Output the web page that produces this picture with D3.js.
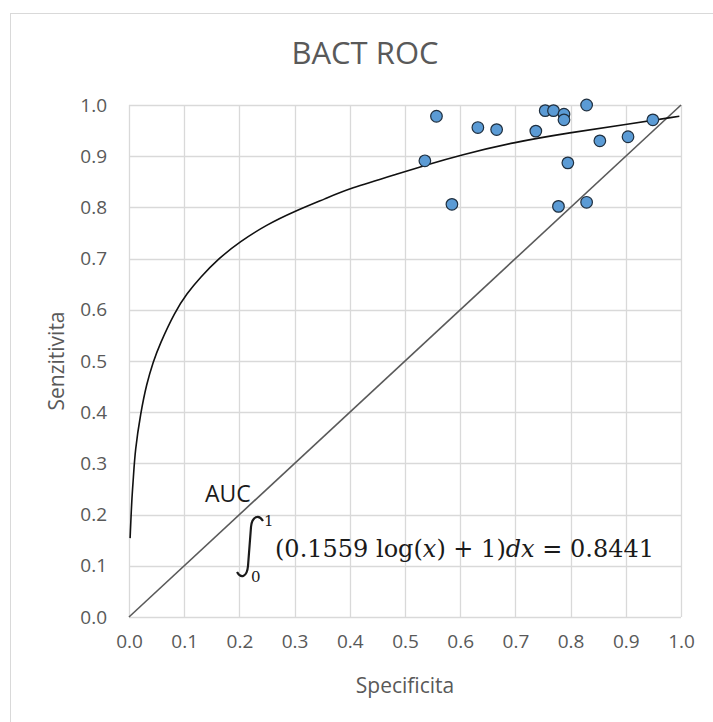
<!DOCTYPE html>
<html>
<head>
<meta charset="utf-8">
<script src="https://cdn.jsdelivr.net/npm/d3@7"></script>
<style>
  body { margin: 0; background: #fff; }
  text { font-family: "Open Sans", sans-serif; }
</style>
</head>
<body>
<svg width="713" height="722"></svg>
<script>
// BACT ROC scatter, Excel-like look

var chartTitle = "BACT ROC";
var xTitle = "Specificita";
var yTitle = "Senzitivita";

var tickValues = [0, 0.1, 0.2, 0.3, 0.4, 0.5, 0.6, 0.7, 0.8, 0.9, 1.0];

// observed points
var specificity = [0.557, 0.536, 0.585, 0.632, 0.666, 0.737, 0.754, 0.769, 0.788, 0.788, 0.829, 0.795, 0.778, 0.829, 0.853, 0.904, 0.949];
var sensitivity = [0.978, 0.891, 0.806, 0.956, 0.952, 0.949, 0.989, 0.989, 0.982, 0.971, 1.000, 0.887, 0.802, 0.810, 0.930, 0.938, 0.971];

// log trend curve
var curveX = [0.002, 0.005, 0.008, 0.011, 0.021, 0.032, 0.044, 0.055, 0.083, 0.105, 0.129, 0.162, 0.201, 0.249, 0.299, 0.358, 0.397, 0.491, 0.536, 0.600, 0.696, 0.799, 0.900, 0.997];
var curveY = [0.154, 0.230, 0.272, 0.325, 0.398, 0.456, 0.499, 0.531, 0.596, 0.632, 0.663, 0.700, 0.733, 0.766, 0.792, 0.818, 0.836, 0.867, 0.882, 0.902, 0.927, 0.946, 0.962, 0.978];

// reference diagonal
var diagX = [0, 1];
var diagY = [0, 1];

var aucLabel = "AUC";
var formula = [
  { t: "(0.1559 log(", i: false },
  { t: "x", i: true },
  { t: ") + 1)", i: false },
  { t: "dx", i: true },
  { t: " = 0.8441", i: false }
];

var svg = d3.select("svg");
var plotLeft = 129, plotTop = 105, width = 552, height = 512;

// chart border
svg.append("rect")
  .attr("x", 10.5).attr("y", 13.5)
  .attr("width", 720).attr("height", 720)
  .attr("fill", "#fff")
  .attr("stroke", "#d9d9d9");

var x = d3.scaleLinear().domain([0, 1]).range([0, width]);
var y = d3.scaleLinear().domain([0, 1]).range([height, 0]);

var g = svg.append("g").attr("transform", "translate(" + plotLeft + "," + plotTop + ")");

// gridlines
g.append("g")
  .selectAll("line")
  .data(tickValues)
  .enter()
  .append("line")
  .attr("x1", function (d) { return Math.round(x(d)) + 0.5; })
  .attr("x2", function (d) { return Math.round(x(d)) + 0.5; })
  .attr("y1", 0)
  .attr("y2", height)
  .attr("stroke", "#d9d9d9")
  .attr("stroke-width", 1.3);

g.append("g")
  .selectAll("line")
  .data(tickValues)
  .enter()
  .append("line")
  .attr("y1", function (d) { return Math.round(y(d)) + 0.5; })
  .attr("y2", function (d) { return Math.round(y(d)) + 0.5; })
  .attr("x1", 0)
  .attr("x2", width)
  .attr("stroke", "#d9d9d9")
  .attr("stroke-width", 1.3);

// axes (labels only)
var xAxis = g.append("g")
  .attr("transform", "translate(0," + height + ")")
  .call(d3.axisBottom(x).tickValues(tickValues).tickSize(0).tickPadding(18).tickFormat(d3.format(".1f")));
var yAxis = g.append("g")
  .call(d3.axisLeft(y).tickValues(tickValues).tickSize(0).tickPadding(22).tickFormat(d3.format(".1f")));

[xAxis, yAxis].forEach(function (a) {
  a.select(".domain").remove();
  a.selectAll("text")
    .attr("fill", "#595959")
    .style("font-family", "'Open Sans', sans-serif")
    .style("font-size", "19px");
});

// diagonal
var line = d3.line()
  .x(function (d) { return x(d[0]); })
  .y(function (d) { return y(d[1]); });

g.append("path")
  .datum(d3.zip(diagX, diagY))
  .attr("d", line)
  .attr("fill", "none")
  .attr("stroke", "#5a5a5a")
  .attr("stroke-width", 1.6);

// log trend
g.append("path")
  .datum(d3.zip(curveX, curveY))
  .attr("d", line.curve(d3.curveBasis))
  .attr("fill", "none")
  .attr("stroke", "#111")
  .attr("stroke-width", 1.6);

// points
g.selectAll(".pt")
  .data(d3.zip(specificity, sensitivity))
  .enter()
  .append("circle")
  .attr("class", "pt")
  .attr("cx", function (d) { return x(d[0]); })
  .attr("cy", function (d) { return y(d[1]); })
  .attr("r", 5.8)
  .attr("fill", "#5b9bd5")
  .attr("stroke", "#1f2f3f")
  .attr("stroke-width", 1.2);

// title and axis titles
svg.append("text")
  .attr("x", 365).attr("y", 64)
  .attr("text-anchor", "middle")
  .attr("fill", "#595959")
  .style("font-size", "31px")
  .text(chartTitle);

svg.append("text")
  .attr("x", plotLeft + width / 2).attr("y", 693)
  .attr("text-anchor", "middle")
  .attr("fill", "#595959")
  .style("font-size", "21px")
  .text(xTitle);

svg.append("text")
  .attr("transform", "translate(64," + (plotTop + height / 2) + ") rotate(-90)")
  .attr("text-anchor", "middle")
  .attr("fill", "#595959")
  .style("font-size", "21px")
  .text(yTitle);

// AUC annotation
svg.append("text")
  .attr("x", 205).attr("y", 502)
  .attr("fill", "#1a1a1a")
  .style("font-size", "23px")
  .text(aucLabel);

svg.append("path")
  .attr("d", "M263,521 C259,514 252,516 251,527 L248,566 C247,577 241,579 237,572")
  .attr("fill", "none")
  .attr("stroke", "#1a1a1a")
  .attr("stroke-width", 2.2);

svg.append("text")
  .attr("x", 264).attr("y", 526)
  .attr("fill", "#1a1a1a")
  .style("font-family", "'DejaVu Serif', serif")
  .style("font-size", "15px")
  .text("1");

svg.append("text")
  .attr("x", 251).attr("y", 582)
  .attr("fill", "#1a1a1a")
  .style("font-family", "'DejaVu Serif', serif")
  .style("font-size", "15px")
  .text("0");

var f = svg.append("text")
  .attr("x", 275).attr("y", 557)
  .attr("fill", "#1a1a1a")
  .style("font-family", "'DejaVu Serif', serif")
  .style("font-size", "24px");

f.selectAll("tspan")
  .data(formula)
  .enter()
  .append("tspan")
  .style("font-style", function (d) { return d.i ? "italic" : "normal"; })
  .text(function (d) { return d.t; });
</script>
</body>
</html>
